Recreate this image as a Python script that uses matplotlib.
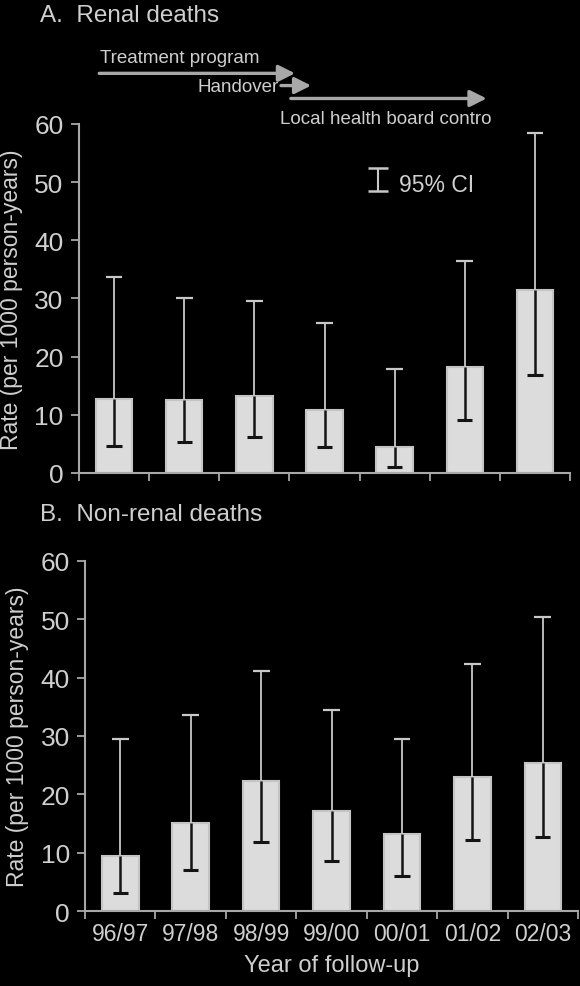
import matplotlib
matplotlib.use("Agg")
import matplotlib.pyplot as plt
import numpy as np

years = ["96/97", "97/98", "98/99", "99/00", "00/01", "01/02", "02/03"]

renal_rate = [12.8, 12.5, 13.3, 10.8, 4.5, 18.2, 31.4]
renal_lo = [4.7, 5.3, 6.1, 4.5, 1.1, 9.1, 16.8]
renal_hi = [33.7, 30.0, 29.6, 25.8, 17.8, 36.4, 58.5]

nonrenal_rate = [9.5, 15.1, 22.3, 17.2, 13.3, 22.9, 25.4]
nonrenal_lo = [3.1, 7.0, 11.8, 8.6, 6.1, 12.2, 12.7]
nonrenal_hi = [29.5, 33.6, 41.2, 34.4, 29.5, 42.3, 50.4]

yticks = [0, 10, 20, 30, 40, 50, 60]

BG = "#000000"
TXT = "#cfcfcf"
SPINE = "#a8a8a8"
BARFACE = "#dcdcdc"
BAREDGE = "#c4c4c4"
UPCOL = "#c8c8c8"
LOCOL = "#141414"
FONT = ["Liberation Sans", "DejaVu Sans"]

plt.rcParams["font.family"] = FONT

fig = plt.figure(figsize=(5.8, 9.87), dpi=100, facecolor=BG)

axA = fig.add_axes([0.136, 0.5198, 0.847, 0.3536])
axB = fig.add_axes([0.1466, 0.0757, 0.850, 0.3552])


def draw(ax, rate, lo, hi, show_labels):
    ax.set_facecolor(BG)
    x = np.arange(len(years))
    ax.bar(x, rate, width=0.52, color=BARFACE, edgecolor=BAREDGE, linewidth=1.5, zorder=2)
    cw = 0.12
    rate = np.array(rate)
    lo = np.array(lo)
    hi = np.array(hi)
    # upper whisker (outside the bar, light)
    ax.vlines(x, rate, hi, color=UPCOL, linewidth=1.3, zorder=3)
    ax.hlines(hi, x - cw, x + cw, color=UPCOL, linewidth=1.6, zorder=3)
    # lower whisker (inside the bar, dark)
    ax.vlines(x, lo, rate, color=LOCOL, linewidth=1.8, zorder=3)
    ax.hlines(lo, x - cw * 0.9, x + cw * 0.9, color=LOCOL, linewidth=2.2, zorder=3)
    ax.set_xlim(-0.5, len(years) - 0.5)
    ax.set_ylim(0, 60)
    ax.set_yticks(yticks)
    ax.set_yticklabels([str(t) for t in yticks], fontsize=19, color=TXT)
    ax.set_xticks(np.arange(len(years) + 1) - 0.5)
    ax.set_xticklabels([])
    ax.set_xticks(x, minor=True)
    if show_labels:
        ax.set_xticklabels(years, minor=True, fontsize=16.5, color=TXT)
    else:
        ax.set_xticklabels([], minor=True)
    ax.tick_params(axis="x", which="minor", length=0, pad=8)
    ax.tick_params(axis="x", which="major", length=6, width=1.3, color=SPINE, direction="out")
    ax.tick_params(axis="y", length=6, width=1.3, color=SPINE, pad=5)
    for s in ["top", "right"]:
        ax.spines[s].set_visible(False)
    for s in ["left", "bottom"]:
        ax.spines[s].set_color(SPINE)
        ax.spines[s].set_linewidth(1.5)
    ax.set_ylabel("Rate (per 1000 person-years)", fontsize=16.5, color=TXT, labelpad=8)


draw(axA, renal_rate, renal_lo, renal_hi, False)
draw(axB, nonrenal_rate, nonrenal_lo, nonrenal_hi, True)
axB.set_xlabel("Year of follow-up", fontsize=17, color=TXT, labelpad=6)

fig.text(0.069, 0.984, "A.  Renal deaths", fontsize=17.5, color=TXT, ha="left", va="center")
fig.text(0.069, 0.478, "B.  Non-renal deaths", fontsize=17.5, color=TXT, ha="left", va="center")

# CI legend
eb = axA.errorbar([np.nan], [np.nan], yerr=[[1], [1]], fmt="none", ecolor=UPCOL,
                  elinewidth=1.5, capsize=7, capthick=1.8, label="95% CI")
leg = axA.legend(handles=[eb], loc="center left", bbox_to_anchor=(0.545, 0.83),
                 frameon=False, fontsize=16.5, handlelength=0.9, handletextpad=0.5,
                 labelcolor=TXT, handleheight=1.6)

# Program arrows above panel A
ARW = "#a8a8a8"
arrow_kw = dict(arrowstyle="-|>,head_length=1.0,head_width=0.5", color=ARW, lw=2.4,
                shrinkA=0, shrinkB=0)
axA.annotate("", xy=(2.58, 1.145), xytext=(-0.21, 1.145), xycoords=("data", "axes fraction"),
             textcoords=("data", "axes fraction"), arrowprops=arrow_kw, annotation_clip=False)
axA.annotate("", xy=(2.81, 1.11), xytext=(2.38, 1.11), xycoords=("data", "axes fraction"),
             textcoords=("data", "axes fraction"), arrowprops=arrow_kw, annotation_clip=False)
axA.annotate("", xy=(5.31, 1.073), xytext=(2.52, 1.073), xycoords=("data", "axes fraction"),
             textcoords=("data", "axes fraction"), arrowprops=arrow_kw, annotation_clip=False)
axA.text(-0.2, 1.19, "Treatment program", transform=axA.get_xaxis_transform(),
         fontsize=13.5, color=TXT, ha="left", va="center", clip_on=False)
axA.text(2.35, 1.107, "Handover", transform=axA.get_xaxis_transform(),
         fontsize=13.5, color=TXT, ha="right", va="center", clip_on=False)
axA.text(2.37, 1.015, "Local health board contro", transform=axA.get_xaxis_transform(),
         fontsize=13.5, color=TXT, ha="left", va="center", clip_on=False)

fig.savefig("out.png", dpi=100, facecolor=BG)
